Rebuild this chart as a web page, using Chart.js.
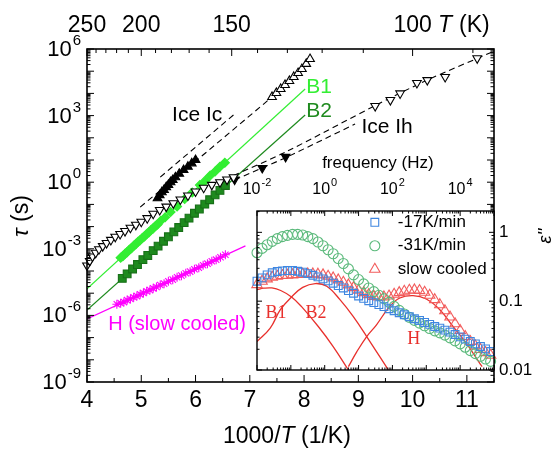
<!DOCTYPE html>
<html>
<head>
<meta charset="utf-8">
<script src="https://cdn.jsdelivr.net/npm/chart.js@4.4.1/dist/chart.umd.min.js"></script>
<style>
  html, body { margin: 0; padding: 0; background: #fff; }
  #wrap { position: relative; width: 558px; height: 450px; }
  #wrap canvas { position: absolute; left: 0; top: 0; }
</style>
</head>
<body>
<div id="wrap">
  <canvas id="main" width="558" height="450"></canvas>
  <canvas id="inset" width="558" height="450"></canvas>
</div>
<script>
// ---- main plot: x = 1000/T (1/K), y = log10(tau / s) ----
const ihLowX = [4.00, 4.05, 4.10, 4.16, 4.22, 4.29, 4.36, 4.44, 4.52, 4.61, 4.70, 4.80, 4.90, 5.00, 5.11, 5.22, 5.34, 5.46, 5.59, 5.72, 5.86, 6.00, 6.15, 6.30, 6.45, 6.58, 6.70];
const ihLowTau = [-3.75, -3.55, -3.35, -3.18, -3.02, -2.88, -2.74, -2.60, -2.46, -2.33, -2.20, -2.05, -1.92, -1.78, -1.62, -1.42, -1.25, -1.10, -0.95, -0.78, -0.60, -0.42, -0.25, -0.12, 0.00, 0.12, 0.22];
const ihFillX = [6.72, 7.23, 7.66];
const ihFillTau = [0.12, 0.64, 1.14];
const ihHighX = [9.31, 9.59, 9.77, 10.08, 10.27, 10.60, 11.19];
const ihHighTau = [3.43, 3.70, 4.00, 4.47, 4.60, 4.74, 5.58];

const icFillX = [5.30, 5.34, 5.38, 5.42, 5.46, 5.50, 5.54, 5.58, 5.63, 5.70, 5.78, 5.86, 5.93, 6.00];
const icFillTau = [-0.72, -0.58, -0.45, -0.35, -0.22, -0.12, 0.00, 0.10, 0.22, 0.38, 0.55, 0.70, 0.85, 1.00];
const icHighX = [7.41, 7.49, 7.57, 7.65, 7.73, 7.81, 7.89, 7.96, 8.04, 8.11];
const icHighTau = [3.84, 4.02, 4.20, 4.38, 4.56, 4.74, 4.92, 5.10, 5.33, 5.55];

// dashed guide curves
const icFitAX = [4.98, 6.20, 7.41, 8.11];
const icFitATau = [-1.12, 1.35, 3.84, 5.55];
const icFitBX = [5.35, 6.70];
const icFitBTau = [0.23, 3.03];
const ihFitAX = [6.70, 7.66, 9.31, 10.27, 11.50];
const ihFitATau = [0.30, 1.36, 3.45, 4.60, 5.90];
const ihFitBX = [6.72, 7.66, 8.94];
const ihFitBTau = [0.10, 1.10, 2.62];

const b1X = [4.62, 4.66, 4.70, 4.74, 4.78, 4.82, 4.86, 4.90, 4.94, 4.98, 5.02, 5.06, 5.10, 5.14, 5.18, 5.22, 5.26, 5.30, 5.36, 5.44, 5.54, 5.66, 5.80, 5.94, 6.08, 6.18, 6.27, 6.36, 6.45, 6.54];
const b1Tau = [-3.40, -3.33, -3.22, -3.15, -3.04, -2.97, -2.86, -2.79, -2.68, -2.61, -2.51, -2.44, -2.33, -2.26, -2.15, -2.08, -1.97, -1.90, -1.74, -1.58, -1.34, -1.09, -0.76, -0.46, -0.13, 0.07, 0.30, 0.48, 0.70, 0.88];
const b1LineX = [4.00, 8.02];
const b1LineTau = [-4.80, 4.20];

const b2X = [4.65, 4.74, 4.84, 4.93, 5.03, 5.12, 5.22, 5.31, 5.41, 5.50, 5.60, 5.69, 5.79, 5.88, 5.98, 6.07, 6.17, 6.26, 6.36, 6.45, 6.55];
const b2Tau = [-4.33, -4.13, -3.91, -3.71, -3.49, -3.30, -3.08, -2.88, -2.66, -2.46, -2.24, -2.04, -1.82, -1.62, -1.40, -1.21, -0.99, -0.79, -0.57, -0.37, -0.15];
const b2LineX = [4.00, 8.02];
const b2LineTau = [-5.76, 3.03];

const hX = [4.55, 4.62, 4.68, 4.74, 4.80, 4.86, 4.92, 4.98, 5.04, 5.10, 5.16, 5.22, 5.28, 5.35, 5.42, 5.50, 5.58, 5.66, 5.74, 5.82, 5.90, 5.98, 6.06, 6.14, 6.22, 6.30, 6.38, 6.46, 6.55];
const hTau = [-5.50, -5.45, -5.40, -5.31, -5.26, -5.18, -5.13, -5.05, -4.99, -4.91, -4.86, -4.78, -4.72, -4.63, -4.57, -4.46, -4.39, -4.28, -4.21, -4.10, -4.03, -3.92, -3.85, -3.74, -3.67, -3.56, -3.49, -3.38, -3.27];
const hLineX = [4.00, 6.92];
const hLineTau = [-6.16, -2.87];

// ticks
const xTicks = [4, 5, 6, 7, 8, 9, 10, 11];
const tempTicks = [250, 240, 230, 220, 210, 200, 190, 180, 170, 160, 150, 140, 130, 120, 110, 100, 90];
const tempLabels = [250, 200, 150, 100];
const tauLabels = [-9, -6, -3, 0, 3, 6];

// ---- inset: x = log10(frequency / Hz), y = log10(eps'') ----
const logF = [-2.00, -1.85, -1.70, -1.55, -1.40, -1.25, -1.10, -0.95, -0.80, -0.65, -0.50, -0.35, -0.20, -0.05, 0.10, 0.25, 0.40, 0.55, 0.70, 0.85, 1.00, 1.15, 1.30, 1.45, 1.60, 1.75, 1.90, 2.05, 2.20, 2.35, 2.50, 2.65, 2.80, 2.95, 3.10, 3.25, 3.40, 3.55, 3.70, 3.85, 4.00, 4.15, 4.30, 4.45, 4.60, 4.75, 4.90];
const eps17Log = [-0.710, -0.661, -0.618, -0.588, -0.569, -0.560, -0.555, -0.555, -0.565, -0.579, -0.599, -0.623, -0.647, -0.676, -0.705, -0.739, -0.773, -0.808, -0.846, -0.885, -0.925, -0.959, -0.993, -1.022, -1.051, -1.080, -1.110, -1.139, -1.168, -1.197, -1.226, -1.255, -1.280, -1.309, -1.338, -1.368, -1.392, -1.421, -1.450, -1.484, -1.518, -1.552, -1.586, -1.621, -1.659, -1.693, -1.732];
const eps31Log = [-0.296, -0.233, -0.180, -0.131, -0.092, -0.063, -0.044, -0.029, -0.029, -0.039, -0.063, -0.092, -0.141, -0.195, -0.253, -0.311, -0.380, -0.453, -0.531, -0.618, -0.686, -0.749, -0.808, -0.861, -0.915, -0.964, -1.017, -1.076, -1.134, -1.187, -1.236, -1.280, -1.319, -1.358, -1.397, -1.431, -1.460, -1.494, -1.533, -1.577, -1.621, -1.669, -1.718, -1.762, -1.801, -1.840, -1.874];
const epsSlowLog = [-0.759, -0.710, -0.676, -0.652, -0.638, -0.628, -0.623, -0.618, -0.613, -0.608, -0.604, -0.604, -0.608, -0.618, -0.638, -0.662, -0.691, -0.725, -0.764, -0.803, -0.842, -0.876, -0.905, -0.930, -0.939, -0.939, -0.925, -0.900, -0.876, -0.856, -0.842, -0.837, -0.846, -0.871, -0.915, -0.978, -1.051, -1.139, -1.231, -1.329, -1.426, -1.514, -1.586, -1.650, -1.703, -1.747, -1.786];

const compB1F = [-2.00, -1.80, -1.56, -1.30, -0.98, -0.69, -0.19, 0.25, 0.70];
const compB1E = [-0.832, -0.812, -0.808, -0.845, -0.939, -1.076, -1.368, -1.659, -2.000];
const compB2F = [-2.00, -1.61, -1.31, -0.98, -0.65, -0.28, 0.06, 0.45, 0.84, 1.24, 1.88];
const compB2E = [-1.587, -1.392, -1.124, -0.939, -0.800, -0.744, -0.783, -0.978, -1.222, -1.514, -2.000];
const compHF = [0.70, 0.95, 1.24, 1.53, 1.92, 2.22, 2.61, 3.00, 3.40, 3.79, 4.18, 4.58, 4.65];
const compHE = [-1.951, -1.733, -1.514, -1.343, -1.076, -0.954, -0.920, -0.969, -1.124, -1.368, -1.611, -1.903, -1.950];

const freqLabels = [-2, 0, 2, 4];
const epsTickVals = [0, -1, -2];
const epsTickText = ['1', '0.1', '0.01'];
const legendNames = ['-17K/min', '-31K/min', 'slow cooled'];

const SANS = '"Liberation Sans", Arial, Helvetica, sans-serif';
const SERIF = '"Liberation Serif", "Times New Roman", serif';
const LIME = '#33ee33';
const DARKGREEN = '#1e8a1e';
const MAGENTA = '#ff00ff';
const BLUE = '#3f86e0';
const GREEN = '#5cba7c';
const PINK = '#f25c5c';
const RED = '#e8302c';

const mk = (xs, ys) => xs.map((v, i) => ({ x: v, y: ys[i] }));

function marker(data, style, color, fill, radius, rot) {
    return {
        data: data, showLine: false, pointStyle: style, pointRadius: radius,
        pointRotation: rot || 0, pointBorderColor: color, pointBackgroundColor: fill,
        pointBorderWidth: 1.1, borderColor: color, clip: false, order: 0,
    };
}

function curve(data, color, width, dash, tension) {
    return {
        data: data, showLine: true, pointRadius: 0, borderColor: color,
        borderWidth: width, borderDash: dash || [], tension: tension || 0,
        fill: false, clip: 0, order: 1,
    };
}

// writes "10" with a superscript exponent
function powLabel(ctx, exp, x, y, align, size, supSize) {
    const base = '10', sup = String(exp);
    ctx.font = size + 'px ' + SANS;
    const bw = ctx.measureText(base).width;
    ctx.font = supSize + 'px ' + SANS;
    const sw = ctx.measureText(sup).width;
    const w = bw + sw + 1;
    let x0 = x;
    if (align === 'right') x0 = x - w;
    else if (align === 'center') x0 = x - w / 2;
    ctx.textAlign = 'left';
    ctx.textBaseline = 'middle';
    ctx.font = size + 'px ' + SANS;
    ctx.fillText(base, x0, y);
    ctx.font = supSize + 'px ' + SANS;
    ctx.fillText(sup, x0 + bw + 1, y - size * 0.42);
}

function line(ctx, x1, y1, x2, y2) {
    ctx.beginPath();
    ctx.moveTo(x1, y1);
    ctx.lineTo(x2, y2);
    ctx.stroke();
}

const mainAxes = {
    id: 'mainAxes',
    afterDatasetsDraw(chart) {
        const { ctx, chartArea: a, scales: { x, y } } = chart;
        ctx.save();
        ctx.strokeStyle = '#000';
        ctx.fillStyle = '#000';
        ctx.lineWidth = 1;

        // bottom ticks (1000/T)
        for (let v = 4; v <= 11.5; v += 0.5) {
            const px = x.getPixelForValue(v);
            line(ctx, px, a.bottom, px, a.bottom - (v % 1 === 0 ? 7 : 4));
        }
        // top ticks (T)
        tempTicks.forEach(T => {
            const px = x.getPixelForValue(1000 / T);
            line(ctx, px, a.top, px, a.top + (tempLabels.includes(T) ? 7 : 4));
        });
        // left / right log ticks
        for (let d = -9; d <= 6; d++) {
            const py = y.getPixelForValue(d);
            line(ctx, a.left, py, a.left + 7, py);
            line(ctx, a.right, py, a.right - 7, py);
            if (d < 6) {
                for (let k = 2; k <= 9; k++) {
                    const pm = y.getPixelForValue(d + Math.log10(k));
                    line(ctx, a.left, pm, a.left + 3.5, pm);
                    line(ctx, a.right, pm, a.right - 3.5, pm);
                }
            }
        }
        ctx.lineWidth = 1.6;
        ctx.strokeRect(a.left, a.top, a.right - a.left, a.bottom - a.top);

        // tick labels
        ctx.font = '23px ' + SANS;
        ctx.textAlign = 'center';
        ctx.textBaseline = 'middle';
        xTicks.forEach(v => ctx.fillText(String(v), x.getPixelForValue(v), a.bottom + 19));
        tempLabels.forEach(T => ctx.fillText(String(T), x.getPixelForValue(1000 / T), a.top - 23));
        tauLabels.forEach(d => powLabel(ctx, d, a.left - 6, y.getPixelForValue(d) + 1, 'right', 22, 15));

        // axis titles
        ctx.font = '23px ' + SANS;
        ctx.textAlign = 'left';
        ctx.fillText('(K)', 459, a.top - 23);
        ctx.font = 'italic 23px ' + SANS;
        ctx.fillText('T', 438, a.top - 23);

        let tx = 223;
        const ty = 437;
        ctx.font = '23px ' + SANS;
        ctx.fillText('1000/', tx, ty);
        tx += ctx.measureText('1000/').width;
        ctx.font = 'italic 23px ' + SANS;
        ctx.fillText('T', tx, ty);
        tx += ctx.measureText('T ').width;
        ctx.font = '23px ' + SANS;
        ctx.fillText('(1/K)', tx, ty);

        ctx.save();
        ctx.translate(22, 216);
        ctx.rotate(-Math.PI / 2);
        ctx.textAlign = 'left';
        ctx.font = 'italic 23px ' + SANS;
        const tw = ctx.measureText('\u03c4 ').width;
        ctx.font = '23px ' + SANS;
        const sw = ctx.measureText('(s)').width;
        ctx.font = 'italic 23px ' + SANS;
        ctx.fillText('\u03c4', -(tw + sw) / 2, 0);
        ctx.font = '23px ' + SANS;
        ctx.fillText('(s)', -(tw + sw) / 2 + tw, 0);
        ctx.restore();

        // annotations
        ctx.textAlign = 'center';
        ctx.font = '21px ' + SANS;
        ctx.fillStyle = '#000';
        ctx.fillText('Ice Ic', x.getPixelForValue(6.03), y.getPixelForValue(3.03));
        ctx.fillText('Ice Ih', x.getPixelForValue(9.53), y.getPixelForValue(2.49));
        ctx.textAlign = 'left';
        ctx.font = '21px ' + SANS;
        ctx.fillStyle = LIME;
        ctx.fillText('B1', x.getPixelForValue(8.04), y.getPixelForValue(4.29));
        ctx.fillStyle = DARKGREEN;
        ctx.fillText('B2', x.getPixelForValue(8.04), y.getPixelForValue(3.21));
        ctx.textAlign = 'center';
        ctx.font = '20px ' + SANS;
        ctx.fillStyle = MAGENTA;
        ctx.fillText('H (slow cooled)', x.getPixelForValue(5.66), y.getPixelForValue(-6.43));
        ctx.restore();
    }
};

const insetAxes = {
    id: 'insetAxes',
    beforeDatasetsDraw(chart) {
        const { ctx, chartArea: a } = chart;
        ctx.save();
        ctx.fillStyle = '#fff';
        ctx.fillRect(a.left, a.top, a.right - a.left, a.bottom - a.top);
        ctx.restore();
    },
    afterDatasetsDraw(chart) {
        const { ctx, chartArea: a, scales: { x, y } } = chart;
        ctx.save();
        ctx.strokeStyle = '#000';
        ctx.fillStyle = '#000';
        ctx.lineWidth = 1;
        for (let d = -2; d <= 5; d++) {
            const px = x.getPixelForValue(d);
            line(ctx, px, a.bottom, px, a.bottom - 5);
            line(ctx, px, a.top, px, a.top + 5);
            if (d < 5) {
                for (let k = 2; k <= 9; k++) {
                    const pm = x.getPixelForValue(d + Math.log10(k));
                    line(ctx, pm, a.bottom, pm, a.bottom - 2.5);
                    line(ctx, pm, a.top, pm, a.top + 2.5);
                }
            }
        }
        for (let d = -2; d <= 0; d++) {
            const py = y.getPixelForValue(d);
            line(ctx, a.left, py, a.left + 5, py);
            line(ctx, a.right, py, a.right - 5, py);
            for (let k = 2; k <= 9; k++) {
                const v = d + Math.log10(k);
                if (v > y.max) break;
                const pm = y.getPixelForValue(v);
                line(ctx, a.left, pm, a.left + 2.5, pm);
                line(ctx, a.right, pm, a.right - 2.5, pm);
            }
        }
        ctx.lineWidth = 1.4;
        ctx.strokeRect(a.left, a.top, a.right - a.left, a.bottom - a.top);

        // frequency labels above the inset
        freqLabels.forEach(d => powLabel(ctx, d, x.getPixelForValue(d), a.top - 21, 'center', 16, 11));
        ctx.font = '17px ' + SANS;
        ctx.textAlign = 'center';
        ctx.textBaseline = 'middle';
        ctx.fillText('frequency (Hz)', x.getPixelForValue(1.57), a.top - 48);

        // eps'' labels on the right
        ctx.font = '17px ' + SANS;
        ctx.textAlign = 'left';
        epsTickVals.forEach((v, i) => ctx.fillText(epsTickText[i], a.right + 5, y.getPixelForValue(v)));
        ctx.save();
        ctx.translate(546, 236);
        ctx.rotate(-Math.PI / 2);
        ctx.textAlign = 'center';
        ctx.font = 'italic 18px ' + SANS;
        ctx.fillText('\u03b5\'\'', 0, 0);
        ctx.restore();

        // legend
        const styles = [
            { pointStyle: 'rect', radius: 5.5, rotation: 0, borderWidth: 1.1, color: BLUE },
            { pointStyle: 'circle', radius: 5, rotation: 0, borderWidth: 1.1, color: GREEN },
            { pointStyle: 'triangle', radius: 6, rotation: 0, borderWidth: 1.1, color: PINK },
        ];
        legendNames.forEach((name, i) => {
            const ly = y.getPixelForValue(0.146) + i * 23.5;
            const lx = x.getPixelForValue(1.48);
            const st = styles[i];
            ctx.strokeStyle = st.color;
            ctx.fillStyle = 'rgba(0,0,0,0)';
            ctx.lineWidth = st.borderWidth;
            Chart.helpers.drawPoint(ctx, st, lx, ly);
            ctx.fillStyle = '#000';
            ctx.font = '17px ' + SANS;
            ctx.textAlign = 'left';
            ctx.textBaseline = 'middle';
            ctx.fillText(name, lx + 23, ly);
        });

        // component labels
        ctx.fillStyle = RED;
        ctx.font = '18px ' + SERIF;
        ctx.textAlign = 'center';
        ctx.fillText('B1', x.getPixelForValue(-1.44), y.getPixelForValue(-1.17));
        ctx.fillText('B2', x.getPixelForValue(-0.26), y.getPixelForValue(-1.17));
        ctx.fillText('H', x.getPixelForValue(2.63), y.getPixelForValue(-1.56));
        ctx.restore();
    }
};

new Chart(document.getElementById('main'), {
    type: 'scatter',
    data: {
        datasets: [
            marker(mk(ihLowX, ihLowTau), 'triangle', '#000', '#fff', 5, 180),
            marker(mk(ihFillX, ihFillTau), 'triangle', '#000', '#000', 5, 180),
            marker(mk(ihHighX, ihHighTau), 'triangle', '#000', '#fff', 5, 180),
            marker(mk(icFillX, icFillTau), 'triangle', '#000', '#000', 5, 0),
            marker(mk(icHighX, icHighTau), 'triangle', '#000', '#fff', 5, 0),
            marker(mk(b1X, b1Tau), 'rectRot', LIME, LIME, 4.5, 0),
            marker(mk(b2X, b2Tau), 'rect', '#176f17', DARKGREEN, 5.5, 0),
            marker(mk(hX, hTau), 'star', MAGENTA, MAGENTA, 4.5, 0),
            curve(mk(icFitAX, icFitATau), '#000', 1.1, [6, 4]),
            curve(mk(icFitBX, icFitBTau), '#000', 1.1, [6, 4]),
            curve(mk(ihFitAX, ihFitATau), '#000', 1.1, [6, 4], 0.3),
            curve(mk(ihFitBX, ihFitBTau), '#000', 1.1, [6, 4]),
            curve(mk(b1LineX, b1LineTau), LIME, 1.2),
            curve(mk(b2LineX, b2LineTau), DARKGREEN, 1.2),
            curve(mk(hLineX, hLineTau), MAGENTA, 1.2),
        ],
    },
    options: {
        responsive: false,
        animation: false,
        devicePixelRatio: 1,
        layout: { padding: { left: 87, right: 64, top: 49, bottom: 68 } },
        scales: {
            x: { type: 'linear', display: false, min: 4, max: 11.5 },
            y: { type: 'linear', display: false, min: -9, max: 6 },
        },
        plugins: { legend: { display: false }, tooltip: { enabled: false } },
    },
    plugins: [mainAxes],
});

new Chart(document.getElementById('inset'), {
    type: 'scatter',
    data: {
        datasets: [
            marker(mk(logF, eps17Log), 'rect', BLUE, 'rgba(0,0,0,0)', 5.5, 0),
            marker(mk(logF, eps31Log), 'circle', GREEN, 'rgba(0,0,0,0)', 5, 0),
            marker(mk(logF, epsSlowLog), 'triangle', PINK, 'rgba(0,0,0,0)', 6, 0),
            curve(mk(compB1F, compB1E), RED, 1.3, [], 0.4),
            curve(mk(compB2F, compB2E), RED, 1.3, [], 0.4),
            curve(mk(compHF, compHE), RED, 1.3, [], 0.4),
        ],
    },
    options: {
        responsive: false,
        animation: false,
        devicePixelRatio: 1,
        layout: { padding: { left: 257, right: 64, top: 211, bottom: 80 } },
        scales: {
            x: { type: 'linear', display: false, min: -2, max: 5 },
            y: { type: 'linear', display: false, min: -2, max: 0.31 },
        },
        plugins: { legend: { display: false }, tooltip: { enabled: false } },
    },
    plugins: [insetAxes],
});
</script>
</body>
</html>
